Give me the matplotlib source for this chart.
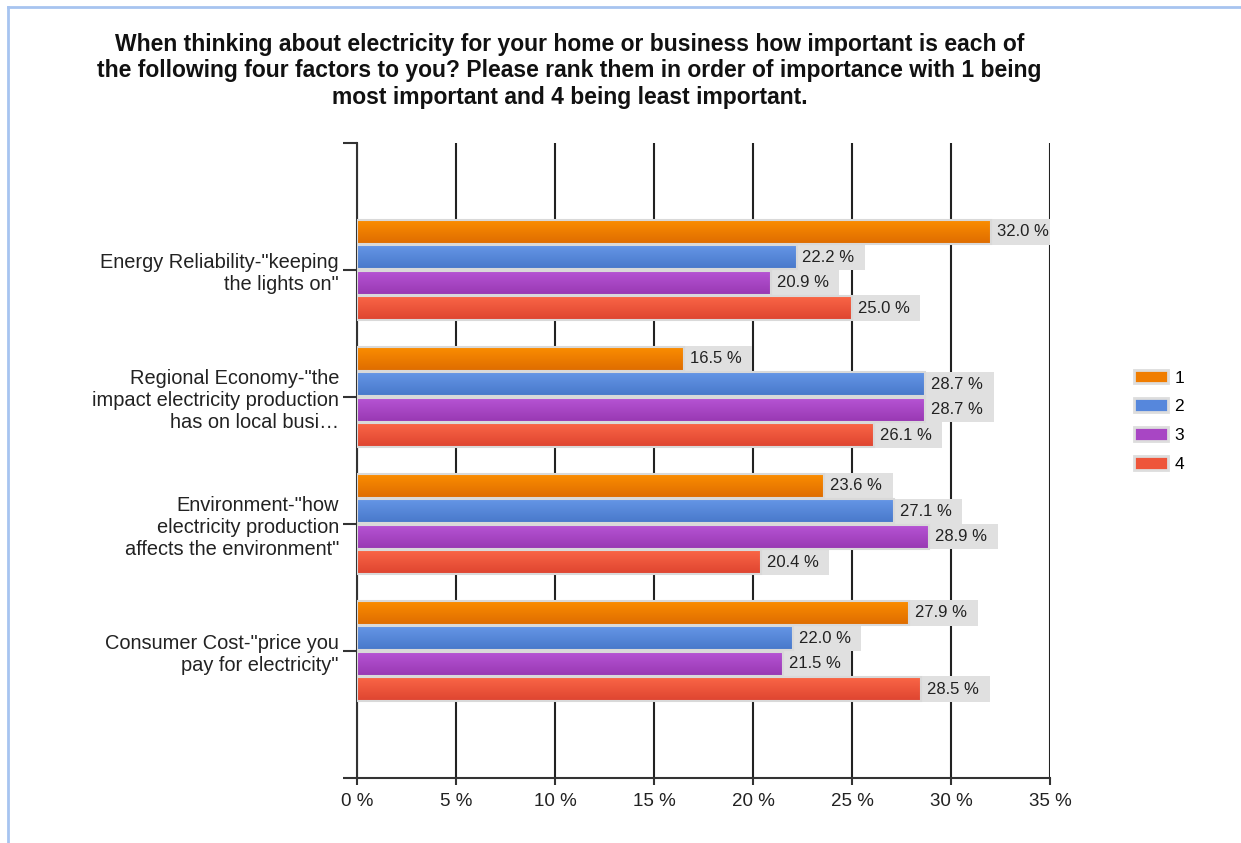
import matplotlib.pyplot as plt
from matplotlib.lines import Line2D
from matplotlib.patches import Patch
from matplotlib.colors import LinearSegmentedColormap
import numpy as np

plt.rcParams['font.family'] = ['Liberation Sans', 'DejaVu Sans']

title = ("When thinking about electricity for your home or business how important is each of\n"
         "the following four factors to you? Please rank them in order of importance with 1 being\n"
         "most important and 4 being least important.")

categories = [
    'Energy Reliability-"keeping\nthe lights on"',
    'Regional Economy-"the\nimpact electricity production\nhas on local busi\u2026',
    'Environment-"how\nelectricity production\naffects the environment"',
    'Consumer Cost-"price you\npay for electricity"',
]
ranks = ['1', '2', '3', '4']
rank1 = [32.0, 16.5, 23.6, 27.9]
rank2 = [22.2, 28.7, 27.1, 22.0]
rank3 = [20.9, 28.7, 28.9, 21.5]
rank4 = [25.0, 26.1, 20.4, 28.5]
x_ticks = [0, 5, 10, 15, 20, 25, 30, 35]

# (top, bottom) shades for the gradient fill of each series
shades = [('#fb8d00', '#de6c00'), ('#6596e6', '#4878ca'),
          ('#b654d4', '#9838b2'), ('#fa6646', '#de4430')]
colors = ['#f07d00', '#5687dc', '#a846c4', '#ee553a']

fig = plt.figure(figsize=(12.41, 8.43), dpi=100)
ax = fig.add_axes([357 / 1241, 65 / 843, 693 / 1241, 635 / 843])

y = np.arange(1, len(categories) + 1)
slot = 0.2
offsets = [-1.5 * slot, -0.5 * slot, 0.5 * slot, 1.5 * slot]
box_w = 3.45
bar_h = slot * 0.94

for series, off, (top, bot) in zip([rank1, rank2, rank3, rank4], offsets, shades):
    pos = y + off
    cmap = LinearSegmentedColormap.from_list('g', [top, bot])
    grad = np.linspace(0, 1, 64).reshape(-1, 1)
    # grey label boxes sit right after each bar
    ax.barh(pos, [box_w] * len(series), left=series, height=slot,
            color='#e0e0e0', zorder=2)
    for v, p in zip(series, pos):
        ax.imshow(grad, cmap=cmap, aspect='auto', interpolation='bilinear',
                  extent=[0, v, p + bar_h / 2, p - bar_h / 2], zorder=3)
        ax.text(v + 0.3, p, f'{v:.1f} %', va='center', ha='left',
                fontsize=12, color='#222222', zorder=5)
    ax.barh(pos, series, height=bar_h, facecolor='none',
            edgecolor='#d9d9d9', linewidth=1.5, zorder=4)

ax.set_xlim(0, 35)
ax.set_ylim(5, 0)
ax.set_xticks(x_ticks)
ax.set_xticklabels([f'{t} %' for t in x_ticks])
ax.set_yticks([0, 1, 2, 3, 4, 5])
ax.set_yticklabels([''] + categories + [''], linespacing=1.2)

ax.grid(axis='x', color='#222222', linewidth=1.5, zorder=1)
ax.set_axisbelow(True)
for s in ['top', 'right']:
    ax.spines[s].set_visible(False)
for s in ['left', 'bottom']:
    ax.spines[s].set_color('#333333')
    ax.spines[s].set_linewidth(1.5)
ax.tick_params(axis='x', length=5, width=1.5, color='#333333',
               labelsize=13.5, labelcolor='#222222', pad=6)
ax.tick_params(axis='y', length=10, width=1.5, color='#333333',
               labelsize=14.4, labelcolor='#222222', pad=3)

handles = [Patch(facecolor=c, edgecolor='#dddddd', linewidth=2) for c in colors]
fig.legend(handles, ranks, loc='upper left', bbox_to_anchor=(1118 / 1241, 1 - 354 / 843),
           frameon=False, fontsize=12.5, handlelength=2.0, handleheight=0.85,
           labelspacing=0.74, handletextpad=0.35)

fig.text(0.459, 1 - 71 / 843, title, ha='center', va='center',
         fontsize=16.5, fontweight='bold', color='#111111', linespacing=1.2)

# light blue frame along the top and left edges
fig.add_artist(Line2D([8 / 1241, 1], [1 - 7 / 843, 1 - 7 / 843], color='#a7c4f0', linewidth=2))
fig.add_artist(Line2D([8 / 1241, 8 / 1241], [0, 1 - 7 / 843], color='#a7c4f0', linewidth=2))

fig.savefig('out.png', dpi=100)
